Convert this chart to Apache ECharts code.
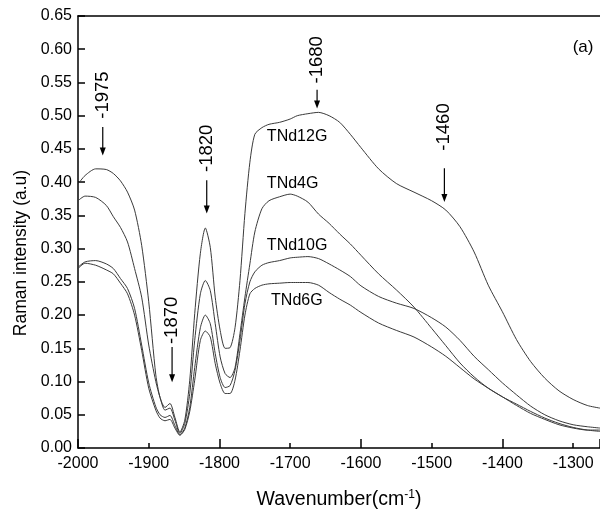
<!DOCTYPE html>
<html>
<head>
<meta charset="utf-8">
<script src="https://cdn.jsdelivr.net/npm/echarts@6/dist/echarts.min.js"></script>
<style>html,body{margin:0;padding:0;background:#fff;}#c{width:600px;height:510px;}</style>
</head>
<body>
<div id="c"></div>
<script>
// Wavenumber grid (cm-1)
const wavenumbers = [-2000,-1990,-1975,-1960,-1950,-1940,-1930,-1920,-1910,-1900,-1890,-1884,-1877,-1870,-1863,-1856,-1849,-1842,-1835,-1827,-1820,-1813,-1806,-1799,-1792,-1785,-1778,-1771,-1764,-1757,-1750,-1740,-1730,-1715,-1700,-1690,-1675,-1660,-1645,-1630,-1615,-1600,-1575,-1550,-1525,-1500,-1480,-1460,-1440,-1420,-1400,-1380,-1360,-1340,-1320,-1300,-1280,-1262];

const tnd12g = [0.397,0.41,0.42,0.419,0.413,0.402,0.385,0.358,0.305,0.22,0.11,0.076,0.061,0.067,0.046,0.024,0.042,0.102,0.202,0.293,0.331,0.302,0.227,0.177,0.15,0.151,0.181,0.252,0.353,0.43,0.472,0.482,0.487,0.49,0.495,0.5,0.503,0.505,0.5,0.49,0.472,0.452,0.42,0.398,0.385,0.372,0.358,0.333,0.295,0.245,0.205,0.163,0.13,0.105,0.086,0.073,0.064,0.06];

const tnd4g = [0.372,0.379,0.377,0.365,0.348,0.332,0.31,0.27,0.227,0.155,0.1,0.076,0.057,0.06,0.042,0.022,0.037,0.082,0.162,0.232,0.252,0.237,0.187,0.137,0.112,0.106,0.121,0.172,0.227,0.277,0.325,0.36,0.372,0.378,0.382,0.379,0.37,0.352,0.338,0.322,0.307,0.29,0.262,0.238,0.212,0.18,0.154,0.128,0.107,0.09,0.077,0.066,0.055,0.045,0.037,0.031,0.027,0.025];

const tnd10g = [0.272,0.28,0.282,0.277,0.27,0.255,0.24,0.21,0.155,0.098,0.062,0.05,0.046,0.049,0.034,0.02,0.03,0.061,0.121,0.181,0.2,0.187,0.142,0.106,0.091,0.094,0.117,0.162,0.217,0.25,0.265,0.275,0.279,0.282,0.286,0.287,0.288,0.285,0.277,0.268,0.258,0.244,0.228,0.218,0.21,0.196,0.182,0.162,0.138,0.118,0.098,0.08,0.063,0.05,0.041,0.035,0.032,0.03];

const tnd6g = [0.27,0.278,0.275,0.268,0.262,0.248,0.232,0.2,0.147,0.09,0.057,0.045,0.041,0.043,0.03,0.019,0.028,0.055,0.102,0.162,0.176,0.167,0.127,0.097,0.082,0.082,0.102,0.147,0.2,0.232,0.24,0.245,0.247,0.248,0.249,0.249,0.249,0.245,0.234,0.224,0.215,0.204,0.188,0.177,0.167,0.152,0.138,0.121,0.104,0.09,0.077,0.064,0.052,0.043,0.035,0.03,0.027,0.027];

const seriesNames = ['TNd12G','TNd4G','TNd10G','TNd6G'];

// Peak annotations: label, arrow wavenumber, arrow top/bottom intensity, text centre intensity
const peakLabels = ['-1975','-1820','-1680','-1460','-1870'];
const peakX =      [-1965, -1818, -1662, -1482, -1867];
const arrowTop =   [0.483, 0.403, 0.539, 0.421, 0.152];
const arrowBottom =[0.440, 0.353, 0.511, 0.370, 0.099];
const textY =      [0.531, 0.451, 0.584, 0.483, 0.192];

// Curve labels
const curveLabelX = [-1733,-1733,-1733,-1727];
const curveLabelY = [0.469,0.398,0.305,0.222];

const panelLabel = '(a)';
const panelX = -1286, panelY = 0.603;

const FONT = '"Liberation Sans", Arial, sans-serif';
const LINE = '#3a3a3a';

const chart = echarts.init(document.getElementById('c'), null, {renderer:'canvas'});

function pairs(ys){ return wavenumbers.map((x,i)=>[x, ys[i]]); }
const allData = [tnd12g, tnd4g, tnd10g, tnd6g];

const option = {
  backgroundColor:'#fff',
  animation:false,
  grid:{left:78, top:16, right:0, bottom:62, containLabel:false, outerBoundsMode:'none'},
  xAxis:[{
    type:'value', min:-2000, max:-1262, interval:100, position:'bottom',
    name:'Wavenumber(cm{sup|-1})', nameLocation:'middle', nameGap:41,
    nameTextStyle:{fontFamily:FONT, fontSize:19.5, color:'#000', rich:{sup:{fontSize:12, verticalAlign:'top', padding:[0,0,9,0], fontFamily:FONT, color:'#000'}}},
    axisLine:{show:true, onZero:false, lineStyle:{color:'#000', width:1.5}},
    axisTick:{show:true, inside:true, length:5, lineStyle:{color:'#000', width:1.5}},
    axisLabel:{fontFamily:FONT, fontSize:16, color:'#000', margin:8, formatter:v=>String(v)},
    splitLine:{show:false}
  },{
    type:'value', min:-2000, max:-1262, interval:200, position:'bottom',
    axisLine:{show:false},
    axisTick:{show:true, inside:true, length:9, lineStyle:{color:'#000', width:1.5}},
    axisLabel:{show:false}, splitLine:{show:false}
  },{
    type:'value', min:-2000, max:-1262, position:'top',
    axisLine:{show:true, onZero:false, lineStyle:{color:'#000', width:1.5}},
    axisTick:{show:false}, axisLabel:{show:false}, splitLine:{show:false}
  }],
  yAxis:{
    type:'value', min:0, max:0.65, interval:0.05,
    name:'Raman intensity (a.u)', nameLocation:'middle', nameGap:47,
    nameTextStyle:{fontFamily:FONT, fontSize:17.5, color:'#000', padding:[0,42,0,0]},
    axisLine:{show:true, onZero:false, lineStyle:{color:'#000', width:1.5}},
    axisTick:{show:true, inside:true, length:7, lineStyle:{color:'#000', width:1.5}},
    axisLabel:{fontFamily:FONT, fontSize:16, color:'#000', margin:6, formatter:v=>v.toFixed(2)},
    splitLine:{show:false}
  },
  series: seriesNames.map((n,i)=>({
    name:n, type:'line', xAxisIndex:0, data:pairs(allData[i]), showSymbol:false, smooth:0.25,
    lineStyle:{color:LINE, width:1}, silent:true
  }))
};
chart.setOption(option);

function drawAnnotations(){
  const g = [];
  peakLabels.forEach((lab,i)=>{
    const top = chart.convertToPixel({xAxisIndex:0,yAxisIndex:0},[peakX[i], arrowTop[i]]);
    const bot = chart.convertToPixel({xAxisIndex:0,yAxisIndex:0},[peakX[i], arrowBottom[i]]);
    const tc = chart.convertToPixel({xAxisIndex:0,yAxisIndex:0},[peakX[i], textY[i]]);
    g.push({type:'line', shape:{x1:top[0], y1:top[1], x2:bot[0], y2:bot[1]-6}, style:{stroke:'#000', lineWidth:1.2}});
    g.push({type:'polygon', shape:{points:[[bot[0]-3,bot[1]-8],[bot[0]+3,bot[1]-8],[bot[0],bot[1]]]}, style:{fill:'#000'}});
    g.push({type:'text', x:tc[0], y:tc[1], rotation:Math.PI/2,
      style:{text:lab, fontFamily:FONT, fontSize:18.5, fill:'#000', align:'center', verticalAlign:'middle'}});
  });
  seriesNames.forEach((n,i)=>{
    const p = chart.convertToPixel({xAxisIndex:0,yAxisIndex:0},[curveLabelX[i], curveLabelY[i]]);
    g.push({type:'text', x:p[0], y:p[1], style:{text:n, fontFamily:FONT, fontSize:16, fill:'#000', align:'left', verticalAlign:'middle'}});
  });
  const pp = chart.convertToPixel({xAxisIndex:0,yAxisIndex:0},[panelX, panelY]);
  g.push({type:'text', x:pp[0], y:pp[1], style:{text:panelLabel, fontFamily:FONT, fontSize:17, fill:'#000', align:'center', verticalAlign:'middle'}});
  chart.setOption({graphic:g});
}
drawAnnotations();
</script>
</body>
</html>
